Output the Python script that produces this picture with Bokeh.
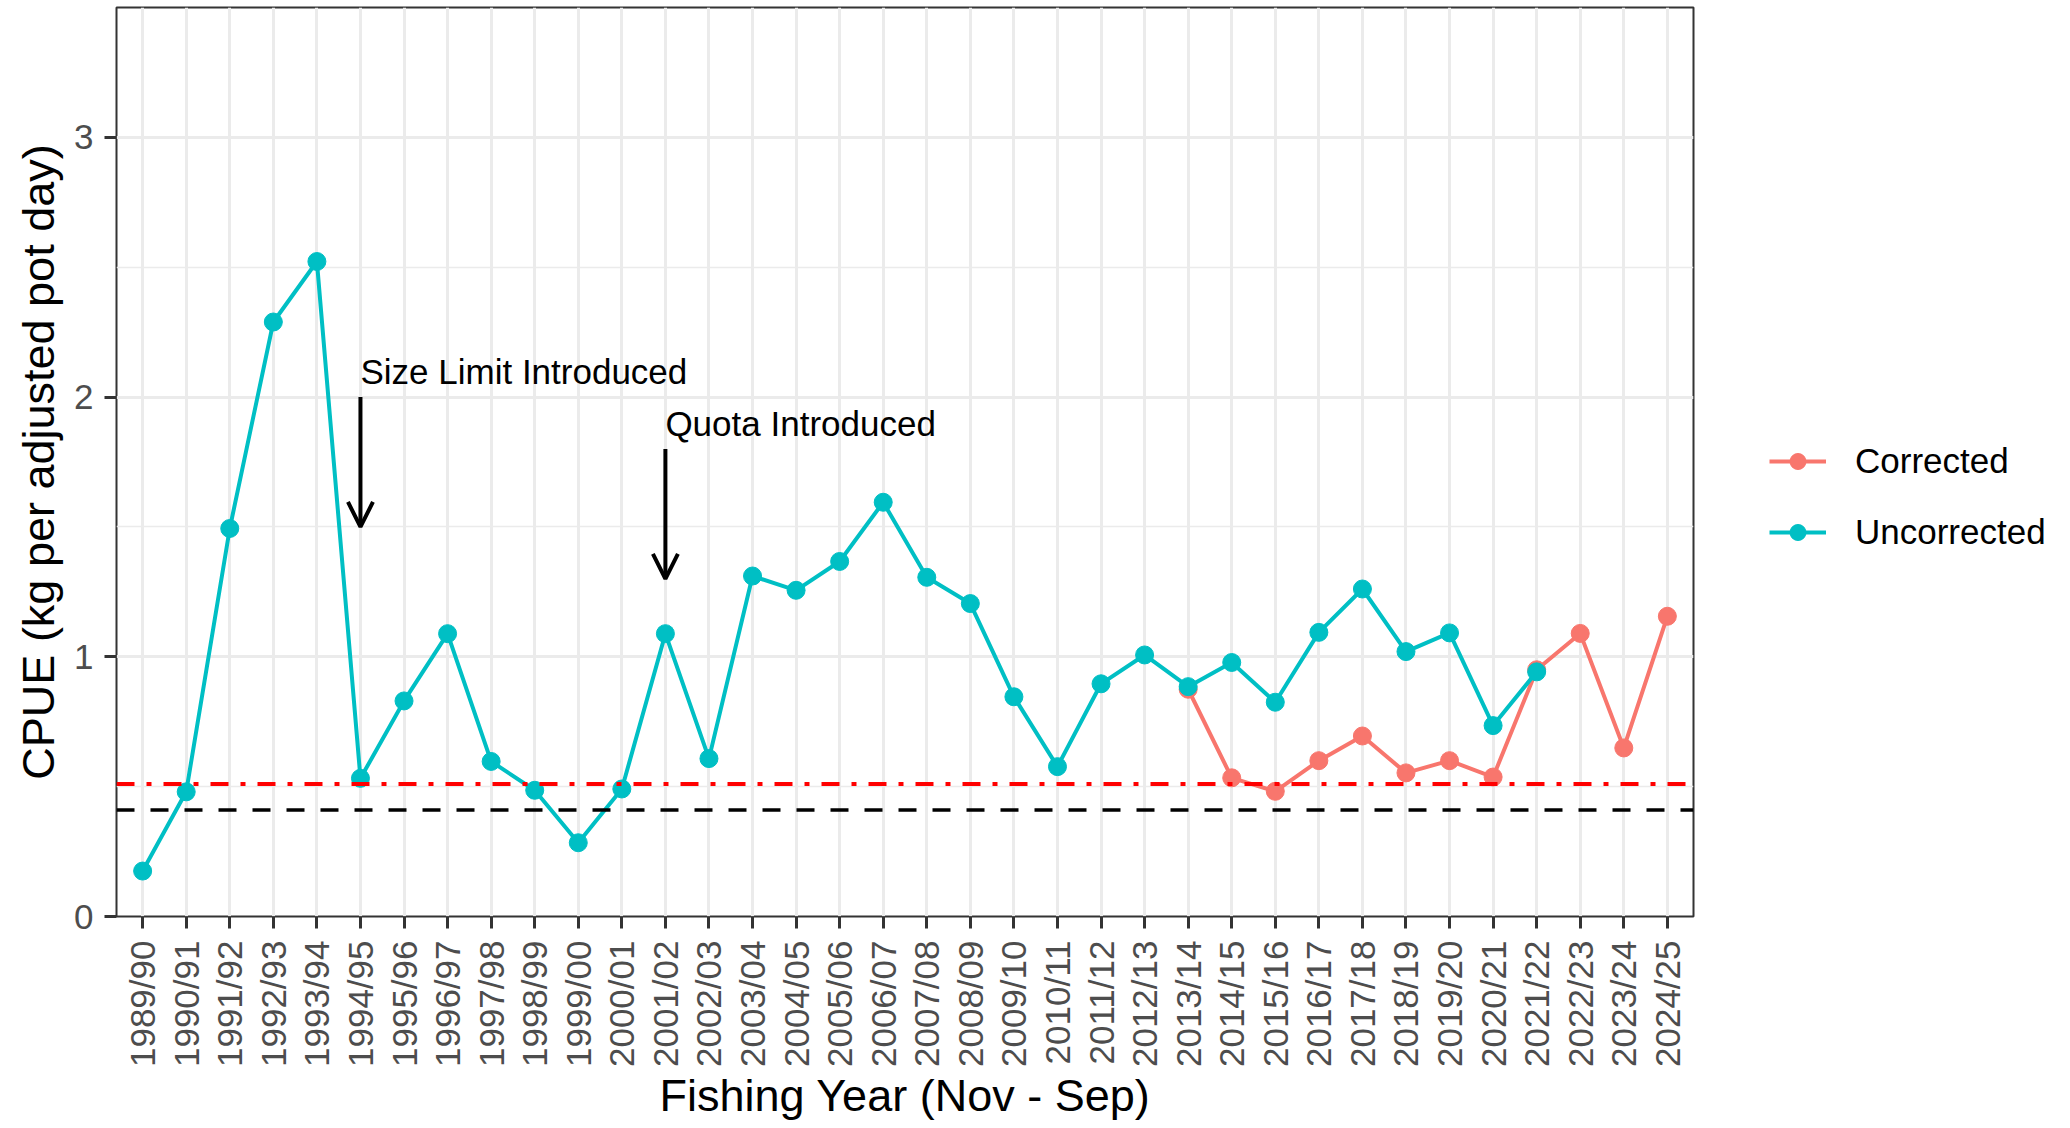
import math
from bokeh.plotting import figure
from bokeh.layouts import row
from bokeh.models import (ColumnDataSource, FactorRange, Range1d, FixedTicker, Span,
                          Arrow, OpenHead, Legend, LegendItem)
from bokeh.embed import file_html
from bokeh.resources import INLINE
from bokeh.core.properties import value

# ---------------- data ----------------
years = ["1989/90", "1990/91", "1991/92", "1992/93", "1993/94", "1994/95", "1995/96",
         "1996/97", "1997/98", "1998/99", "1999/00", "2000/01", "2001/02", "2002/03",
         "2003/04", "2004/05", "2005/06", "2006/07", "2007/08", "2008/09", "2009/10",
         "2010/11", "2011/12", "2012/13", "2013/14", "2014/15", "2015/16", "2016/17",
         "2017/18", "2018/19", "2019/20", "2020/21", "2021/22", "2022/23", "2023/24",
         "2024/25"]

uncorrected_years = years[:33]
uncorrected = [0.175, 0.48, 1.494, 2.289, 2.522, 0.532, 0.83, 1.089, 0.597, 0.486,
               0.284, 0.491, 1.089, 0.608, 1.311, 1.256, 1.367, 1.595, 1.306, 1.205,
               0.846, 0.577, 0.896, 1.007, 0.885, 0.978, 0.825, 1.094, 1.261, 1.02,
               1.092, 0.735, 0.942]

corrected_years = years[24:]
corrected = [0.875, 0.534, 0.482, 0.60, 0.695, 0.553, 0.60, 0.537, 0.95, 1.09,
             0.649, 1.156]

y_ticks = [0, 1, 2, 3]
y_minor_ticks = [0.5, 1.5, 2.5, 3.5]

ref_red = 0.51
ref_black = 0.41

ann_labels = ["Size Limit Introduced", "Quota Introduced"]
ann_years = ["1994/95", "2001/02"]
ann_text_y = [2.1, 1.9]
ann_arrow_from = [2.0, 1.8]
ann_arrow_to = [1.5, 1.3]

series_names = ["Corrected", "Uncorrected"]

# ---------------- styling ----------------
TEAL = "#00BFC4"
SALMON = "#F8766D"
FONT = "Liberation Sans"
GRID = "#EBEBEB"
DARK = "#333333"
TICKTXT = "#4D4D4D"
PT_SIZE = 18
LW = 4

H = 1124
TOP = 7
BOTTOM = H - 918

p = figure(x_range=FactorRange(factors=years, range_padding=0.1,
                               range_padding_units="absolute"),
           y_range=Range1d(0, 3.5),
           width=1710, height=H, output_backend="svg", toolbar_location=None,
           min_border_left=116, min_border_right=17, min_border_top=TOP,
           min_border_bottom=BOTTOM)

p.background_fill_color = "white"
p.border_fill_color = "white"
p.outline_line_color = DARK
p.outline_line_width = 2

# grids
yt = FixedTicker(ticks=y_ticks, minor_ticks=y_minor_ticks)
p.yaxis.ticker = yt
p.ygrid.ticker = yt
p.xgrid.grid_line_color = GRID
p.xgrid.grid_line_width = 3
p.ygrid.grid_line_color = GRID
p.ygrid.grid_line_width = 3
p.ygrid.minor_grid_line_color = GRID
p.ygrid.minor_grid_line_width = 1.6

# axes
for ax in (p.xaxis[0], p.yaxis[0]):
    ax.axis_line_color = None
    ax.major_tick_out = 12
    ax.major_tick_in = 0
    ax.major_tick_line_width = 3
    ax.major_tick_line_color = DARK
    ax.minor_tick_out = 0
    ax.minor_tick_in = 0
    ax.major_label_text_font = FONT
    ax.major_label_text_font_size = "35px"
    ax.major_label_text_color = TICKTXT
    ax.axis_label_text_font = FONT
    ax.axis_label_text_font_size = "45px"
    ax.axis_label_text_font_style = "normal"
    ax.axis_label_text_color = "black"

p.xaxis.axis_label = "Fishing Year (Nov - Sep)"
p.xaxis.major_label_orientation = math.pi / 2
p.xaxis.major_label_standoff = 12
p.xaxis.axis_label_standoff = 0

p.yaxis.axis_label = "CPUE (kg per adjusted pot day)"
p.yaxis.major_label_standoff = 11
p.yaxis.axis_label_standoff = 7

# reference lines
p.add_layout(Span(location=ref_red, dimension="width", line_color="red",
                  line_width=4, line_dash="18 12 5 12"))
p.add_layout(Span(location=ref_black, dimension="width", line_color="black",
                  line_width=3.5, line_dash="18 16"))

# series
p.line(corrected_years, corrected, line_color=SALMON, line_width=LW)
p.line(uncorrected_years, uncorrected, line_color=TEAL, line_width=LW)
p.scatter(corrected_years, corrected, size=PT_SIZE, fill_color=SALMON, line_color=SALMON)
p.scatter(uncorrected_years, uncorrected, size=PT_SIZE, fill_color=TEAL, line_color=TEAL)

# annotations
ann_src = ColumnDataSource(dict(
    x=[years.index(y) + 0.5 for y in ann_years],
    y0=ann_arrow_from, y1=ann_arrow_to, ty=ann_text_y, label=ann_labels))
p.add_layout(Arrow(end=OpenHead(size=25, line_width=4, line_color="black"),
                   x_start="x", y_start="y0", x_end="x", y_end="y1",
                   source=ann_src, line_width=4, line_color="black"))
p.text(x="x", y="ty", text="label", source=ann_src, text_font=value(FONT),
       text_font_size="35px", text_align="left", text_baseline="middle",
       text_color="black")

# ---------------- legend panel ----------------
leg = figure(width=350, height=H, output_backend="svg", toolbar_location=None,
             x_range=Range1d(0, 1), y_range=Range1d(0, 1),
             x_axis_location=None, y_axis_location=None,
             min_border_left=0, min_border_right=0, min_border_top=TOP,
             min_border_bottom=BOTTOM)
leg.outline_line_color = None
leg.xgrid.visible = False
leg.ygrid.visible = False
leg.background_fill_color = "white"
leg.border_fill_color = "white"

colors = [SALMON, TEAL]
items = []
nan = float("nan")
for name, c in zip(series_names, colors):
    rl = leg.line(x=[nan, nan], y=[nan, nan], line_color=c, line_width=LW)
    rp = leg.scatter(x=[nan], y=[nan], size=PT_SIZE, fill_color=c, line_color=c)
    items.append(LegendItem(label=name, renderers=[rl, rp]))

legend = Legend(items=items, location=(59, 918 - 554), glyph_width=57, glyph_height=40,
                label_height=40, spacing=31, label_standoff=29, padding=10,
                margin=0, background_fill_alpha=0, border_line_color=None,
                label_text_font=FONT, label_text_font_size="35px",
                label_text_color="black")
leg.add_layout(legend)

layout = row(p, leg)
open("out.html", "w").write(file_html(layout, INLINE))
